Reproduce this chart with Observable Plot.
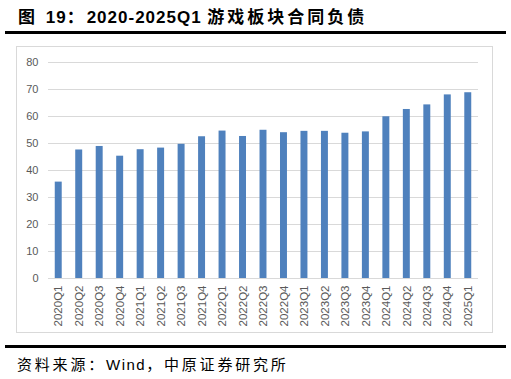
<!DOCTYPE html>
<html>
<head>
<meta charset="utf-8">
<script src="https://cdn.jsdelivr.net/npm/d3@7"></script>
<script src="https://cdn.jsdelivr.net/npm/@observablehq/plot@0.6"></script>
<style>
  html, body { margin: 0; padding: 0; background: #fff; }
  body { width: 511px; height: 379px; position: relative; overflow: hidden; }
  #title { position: absolute; left: 18px; top: 3px; font-family: "Liberation Sans", "Noto Sans CJK SC", sans-serif; font-weight: bold; font-size: 17px; color: #000; white-space: nowrap; }
  #title .cjk { letter-spacing: 3px; font-weight: bold; }
  #title .num { letter-spacing: 1px; }
  #rule1 { position: absolute; left: 5px; top: 31px; width: 501px; height: 3px; background: #000; }
  #box { position: absolute; left: 16px; top: 46px; width: 475px; height: 285px; border: 1px solid #D9D9D9; }
  #chart { position: absolute; left: 0; top: 0; }
  #rule2 { position: absolute; left: 5px; top: 345px; width: 501px; height: 3px; background: #000; }
  #source { position: absolute; left: 17px; top: 353px; font-family: "Liberation Sans", "Noto Sans CJK SC", sans-serif; font-size: 15px; color: #000; white-space: nowrap; }
  #source .cjk { letter-spacing: 2.8px; }
  #source .lat { letter-spacing: 1.5px; }
</style>
</head>
<body>
<div id="title"><span class="cjk">图 </span><span class="num">19</span><span class="cjk">：</span><span class="num">2020-2025Q1 </span><span class="cjk">游戏板块合同负债</span></div>
<div id="rule1"></div>
<div id="box"><div id="chart"></div></div>
<div id="rule2"></div>
<div id="source"><span class="cjk">资料来源：</span><span class="lat">Wind</span><span class="cjk">，中原证券研究所</span></div>
<script>
const quarters = ["2020Q1","2020Q2","2020Q3","2020Q4","2021Q1","2021Q2","2021Q3","2021Q4","2022Q1","2022Q2","2022Q3","2022Q4","2023Q1","2023Q2","2023Q3","2023Q4","2024Q1","2024Q2","2024Q3","2024Q4","2025Q1"];
const values = [35.7, 47.6, 48.9, 45.3, 47.7, 48.3, 49.7, 52.5, 54.6, 52.6, 54.9, 54.0, 54.5, 54.5, 53.8, 54.3, 59.9, 62.6, 64.3, 68.0, 68.8];
const yTicks = [0, 10, 20, 30, 40, 50, 60, 70, 80];

const data = quarters.map((q, i) => ({q, v: values[i]}));

const chart = Plot.plot({
  width: 475,
  height: 285,
  marginLeft: 31,
  marginRight: 14,
  marginTop: 15,
  marginBottom: 54,
  style: { fontFamily: "'Liberation Sans', sans-serif", fontSize: "11px", color: "#595959", background: "transparent" },
  x: { domain: quarters, paddingInner: 0.66, paddingOuter: 0.33, round: false, label: null },
  y: { domain: [0, 80], label: null },
  marks: [
    Plot.ruleY(yTicks, { stroke: "#D9D9D9", strokeWidth: 1, strokeOpacity: 1 }),
    Plot.barY(data, { x: "q", y: "v", fill: "#4F81BD" }),
    Plot.axisY(yTicks, { tickSize: 0, tickPadding: 10, label: null, fontSize: 11, fill: "#595959" }),
    Plot.axisX({ tickSize: 0, tickPadding: 7, tickRotate: -90, label: null, fontSize: 11.5, fill: "#595959" })
  ]
});
document.getElementById("chart").appendChild(chart);
</script>
</body>
</html>
